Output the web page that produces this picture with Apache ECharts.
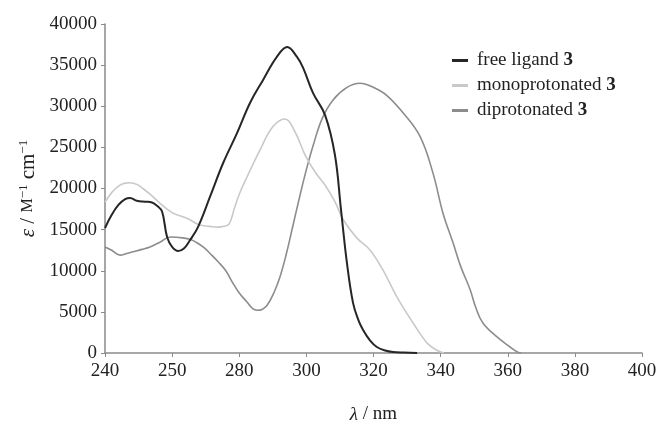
<!DOCTYPE html>
<html>
<head>
<meta charset="utf-8">
<script src="https://cdn.jsdelivr.net/npm/echarts@6/dist/echarts.min.js"></script>
<style>
  html, body { margin: 0; padding: 0; background: #fff; overflow: hidden; }
  #chart { width: 658px; height: 425px; }
</style>
</head>
<body>
<div id="chart"></div>
<script>
// Absorption spectra of ligand 3 and its protonated forms (wavelength in nm, epsilon in M^-1 cm^-1)
const freeNm = [240,242,244,246,247.5,249.5,252,254,255.5,257,258.5,260,261.8,263.5,265.3,267.7,271.3,275.2,279.3,283.2,287.1,291.2,294.3,297.2,299,302,305.6,308.5,310.3,312.1,313.9,315.5,316.9,319,321,323.5,325.8,329,333];
const freeEps = [15200,16800,18000,18700,18850,18500,18400,18300,17900,17200,14100,12900,12400,12700,13700,15300,19000,23100,26700,30400,33200,36000,37200,36000,34700,31600,28900,24100,17500,10900,6100,4000,2800,1500,730,300,120,50,0];

const monoNm = [240,242,244,246,247.5,249.5,251.3,254,256.4,258.5,260.3,263,265.3,268,271.3,273.5,275.5,277,278.5,280,282.3,286.2,290,293.6,296.6,299.6,302.6,305.6,308.5,311,315,319,322.8,327,331.8,336,339,341];
const monoEps = [18360,19500,20300,20650,20700,20500,20000,19100,18200,17500,17000,16600,16200,15600,15400,15300,15400,15700,17500,19300,21400,24700,27500,28450,26900,24100,22000,20400,18400,16200,14000,12500,10100,6800,3650,1200,300,0];

const diNm = [240,242,244.5,246.5,248.3,251,253.4,256.5,259.4,263.2,265.5,267.4,269.5,271.3,273.7,276,278.1,280,282.3,284,285.3,286.8,288.3,290.3,292.1,294,296,298,300,302,304.7,308,312.1,316,319.9,324,328.8,333.9,337.7,340.7,343.7,346,348.8,350.5,352.6,356.8,360.7,363,364];
const diEps = [12900,12500,11900,12100,12300,12600,12900,13500,14100,14000,13800,13400,12800,12100,11100,10000,8500,7300,6200,5400,5200,5300,5800,7300,9200,12000,15500,19000,22300,25200,28500,30800,32300,32800,32300,31300,29200,26300,21900,17000,13400,10500,7700,5500,3650,1950,730,100,0];

const seriesNames = ['free ligand', 'monoprotonated', 'diprotonated'];
const seriesColors = ['#262626', '#c9c9c9', '#8c8c8c'];
const seriesWidths = [2, 1.6, 1.6];

// x tick labels, one per 20 nm step starting at 240
const xTickLabels = ['240', '250', '280', '300', '320', '340', '360', '380', '400'];

const FONT = "'Liberation Serif', 'Times New Roman', serif";

function pairs(xs, ys) {
  return xs.map((x, i) => [x, ys[i]]);
}

const seriesData = [pairs(freeNm, freeEps), pairs(monoNm, monoEps), pairs(diNm, diEps)];

const chart = echarts.init(document.getElementById('chart'), null, { renderer: 'canvas' });

chart.setOption({
  animation: false,
  backgroundColor: '#ffffff',
  grid: { left: 105, right: 16, top: 24, bottom: 72, containLabel: false, outerBoundsMode: 'none' },
  legend: {
    orient: 'vertical',
    left: 447,
    top: 46,
    itemWidth: 16,
    itemHeight: 3,
    itemGap: 6,
    icon: 'rect',
    data: seriesNames,
    formatter: name => '{t|' + name + ' }{b|3}',
    textStyle: {
      fontFamily: FONT,
      fontSize: 19,
      color: '#222',
      lineHeight: 19,
      rich: {
        t: { fontFamily: FONT, fontSize: 19, color: '#222', padding: [0, 0, 0, 4] },
        b: { fontFamily: FONT, fontSize: 19, color: '#222', fontWeight: 'bold' }
      }
    }
  },
  xAxis: {
    type: 'value',
    min: 240,
    max: 400,
    interval: 20,
    name: '{i|λ}{t| / nm}',
    nameLocation: 'middle',
    nameGap: 52,
    nameTextStyle: {
      rich: {
        i: { fontFamily: FONT, fontSize: 19, fontStyle: 'italic', color: '#222' },
        t: { fontFamily: FONT, fontSize: 19, color: '#222' }
      }
    },
    axisLine: { lineStyle: { color: '#8a8a8a', width: 1.5 } },
    axisTick: { show: true, length: 4, lineStyle: { color: '#8a8a8a' } },
    splitLine: { show: false },
    axisLabel: {
      fontFamily: FONT,
      fontSize: 19,
      color: '#222',
      margin: 9,
      formatter: v => xTickLabels[Math.round((v - 240) / 20)]
    }
  },
  yAxis: {
    type: 'value',
    min: 0,
    max: 40000,
    interval: 5000,
    name: '{i|ε}{t| / }{m|M}{s|−1}{t| cm}{s|−1}',
    nameLocation: 'middle',
    nameGap: 60,
    nameRotate: 90,
    nameTextStyle: {
      rich: {
        i: { fontFamily: FONT, fontSize: 21, fontStyle: 'italic', color: '#222' },
        t: { fontFamily: FONT, fontSize: 21, color: '#222' },
        m: { fontFamily: FONT, fontSize: 16, color: '#222' },
        s: { fontFamily: FONT, fontSize: 13, color: '#222', padding: [0, 0, 10, 0] }
      }
    },
    axisLine: { show: true, lineStyle: { color: '#8a8a8a', width: 1.5 } },
    axisTick: { show: true, length: 4, lineStyle: { color: '#8a8a8a' } },
    splitLine: { show: false },
    axisLabel: {
      fontFamily: FONT,
      fontSize: 19,
      color: '#222',
      margin: 8,
      formatter: v => String(v)
    }
  },
  series: seriesNames.map((name, i) => ({
    name: name,
    type: 'line',
    data: seriesData[i],
    showSymbol: false,
    symbol: 'none',
    smooth: 0.4,
    color: seriesColors[i],
    lineStyle: { color: seriesColors[i], width: seriesWidths[i] },
    z: 3 - i
  }))
});
</script>
</body>
</html>
